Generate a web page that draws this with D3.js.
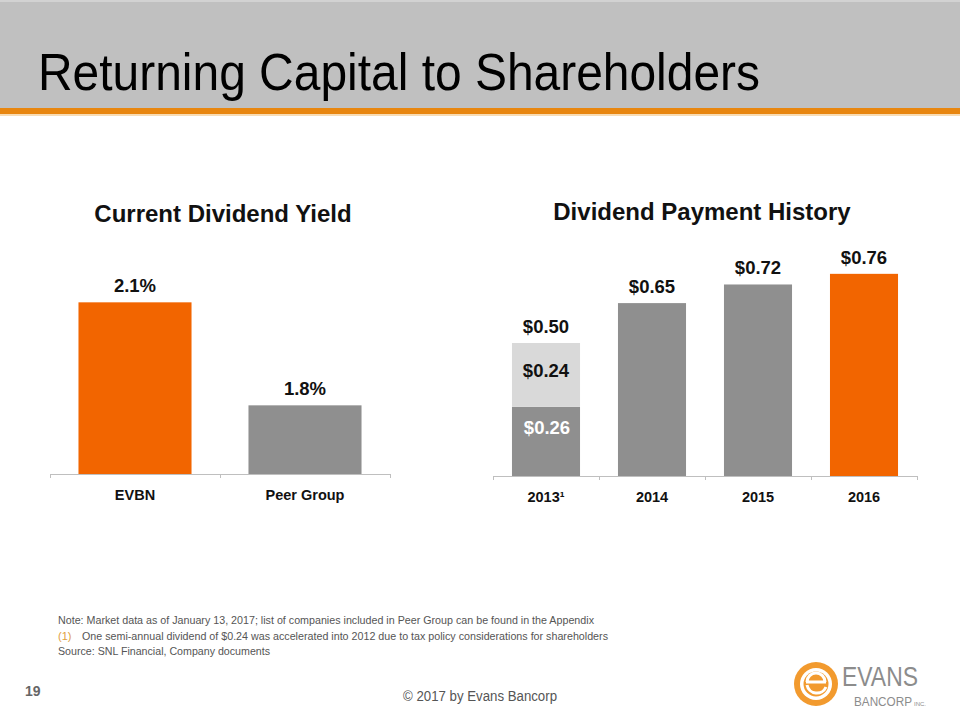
<!DOCTYPE html>
<html>
<head>
<meta charset="utf-8">
<script src="https://cdn.jsdelivr.net/npm/d3@7"></script>
<style>
  html, body { margin: 0; padding: 0; background: #ffffff; }
  svg { display: block; }
  text { font-family: "Liberation Sans", Arial, Helvetica, sans-serif; }
</style>
</head>
<body>
<svg id="chart" width="960" height="720"></svg>
<script>
// ---------- DATA ----------
const pageTitle = "Returning Capital to Shareholders";

const yieldTitle = "Current Dividend Yield";
const yieldCategories = ["EVBN", "Peer Group"];
const yieldValues = [2.1, 1.8];
const yieldLabels = ["2.1%", "1.8%"];
const yieldDomain = [1.6, 2.2];

const divTitle = "Dividend Payment History";
const divYears = ["2013\u00B9", "2014", "2015", "2016"];
const divRegular = [0.26, 0.65, 0.72, 0.76];
const divAccelerated = [0.24, 0, 0, 0];
const divTotals = [0.50, 0.65, 0.72, 0.76];
const divDomain = [0, 0.8];

const notes = [
  "Note: Market data as of January 13, 2017; list of companies included in Peer Group can be found in the Appendix",
  "One semi-annual dividend of $0.24 was accelerated into 2012 due to tax policy considerations for shareholders",
  "Source: SNL Financial, Company documents"
];
const pageNumber = "19";
const copyright = "\u00A9 2017 by Evans Bancorp";

// ---------- STYLE ----------
const ORANGE = "#f26500";
const GRAY = "#8f8f8f";
const LIGHT = "#d9d9d9";
const AXIS = "#bfbfbf";

const svg = d3.select("#chart");

// Header band
svg.append("rect").attr("x", 0).attr("y", 0).attr("width", 960).attr("height", 108).attr("fill", "#c0c0c0");
svg.append("rect").attr("x", 0).attr("y", 0).attr("width", 960).attr("height", 2).attr("fill", "#d2d2d2");
svg.append("rect").attr("x", 0).attr("y", 108).attr("width", 960).attr("height", 6).attr("fill", "#e8860f");
svg.append("rect").attr("x", 0).attr("y", 114).attr("width", 960).attr("height", 2).attr("fill", "#f8dcb4");
svg.append("text").attr("x", 38).attr("y", 90).attr("font-size", 52).attr("fill", "#000")
  .attr("textLength", 722).attr("lengthAdjust", "spacingAndGlyphs").text(pageTitle);

// ---------- LEFT CHART ----------
const L = { x0: 50, x1: 390, base: 474, top: 268 };
const lx = d3.scaleBand().domain(yieldCategories).range([L.x0, L.x1]).paddingInner(0.335).paddingOuter(0.1675);
const ly = d3.scaleLinear().domain(yieldDomain).range([L.base, L.top]);

const left = svg.append("g");
left.append("text").attr("x", 223).attr("y", 222).attr("text-anchor", "middle")
  .attr("font-size", 24).attr("font-weight", "bold").attr("fill", "#111").text(yieldTitle);

left.selectAll("rect.bar").data(yieldCategories).join("rect").attr("class", "bar")
  .attr("x", d => lx(d)).attr("width", lx.bandwidth())
  .attr("y", (d, i) => ly(yieldValues[i]))
  .attr("height", (d, i) => L.base - ly(yieldValues[i]))
  .attr("fill", (d, i) => i === 0 ? ORANGE : GRAY);

left.selectAll("text.val").data(yieldCategories).join("text").attr("class", "val")
  .attr("x", d => lx(d) + lx.bandwidth() / 2)
  .attr("y", (d, i) => ly(yieldValues[i]) - 10.5)
  .attr("text-anchor", "middle").attr("font-size", 18.5).attr("font-weight", "bold").attr("fill", "#111")
  .text((d, i) => yieldLabels[i]);

const lAxis = left.append("g").attr("transform", `translate(0,${L.base})`)
  .call(d3.axisBottom(lx).tickSize(0).tickPadding(16).tickSizeOuter(0));
lAxis.select(".domain").attr("stroke", AXIS);
lAxis.selectAll(".tick text").attr("font-size", 14.5).attr("font-weight", "bold").attr("fill", "#111")
  .style("font-family", '"Liberation Sans", Arial, sans-serif');
const lBounds = [L.x0].concat(yieldCategories.map(d => lx(d) + lx.step() - lx.step() * lx.paddingInner() / 2));
lBounds[lBounds.length - 1] = L.x1;
left.selectAll("line.tk").data(lBounds).join("line").attr("class", "tk")
  .attr("x1", d => d + 0.5).attr("x2", d => d + 0.5).attr("y1", L.base).attr("y2", L.base + 4)
  .attr("stroke", AXIS);

// ---------- RIGHT CHART ----------
const R = { x0: 493, x1: 917, base: 476, top: 263.2 };
const rx = d3.scaleBand().domain(divYears).range([R.x0, R.x1]).paddingInner(0.358).paddingOuter(0.179);
const ry = d3.scaleLinear().domain(divDomain).range([R.base, R.top]);

const right = svg.append("g");
right.append("text").attr("x", 702).attr("y", 220).attr("text-anchor", "middle")
  .attr("font-size", 24).attr("font-weight", "bold").attr("fill", "#111").text(divTitle);

// regular segment
right.selectAll("rect.reg").data(divYears).join("rect").attr("class", "reg")
  .attr("x", d => rx(d)).attr("width", rx.bandwidth())
  .attr("y", (d, i) => ry(divRegular[i]))
  .attr("height", (d, i) => R.base - ry(divRegular[i]))
  .attr("fill", (d, i) => i === divYears.length - 1 ? ORANGE : GRAY);
// accelerated segment
right.selectAll("rect.acc").data(divYears.filter((d, i) => divAccelerated[i] > 0)).join("rect").attr("class", "acc")
  .attr("x", d => rx(d)).attr("width", rx.bandwidth())
  .attr("y", d => { const i = divYears.indexOf(d); return ry(divRegular[i] + divAccelerated[i]); })
  .attr("height", d => { const i = divYears.indexOf(d); return ry(divRegular[i]) - ry(divRegular[i] + divAccelerated[i]); })
  .attr("fill", LIGHT);

right.selectAll("text.tot").data(divYears).join("text").attr("class", "tot")
  .attr("x", d => rx(d) + rx.bandwidth() / 2)
  .attr("y", (d, i) => ry(divTotals[i]) - 10)
  .attr("text-anchor", "middle").attr("font-size", 18.5).attr("font-weight", "bold").attr("fill", "#111")
  .text((d, i) => "$" + divTotals[i].toFixed(2));

// segment labels for stacked bar
divYears.forEach((d, i) => {
  if (divAccelerated[i] > 0) {
    const cx = rx(d) + rx.bandwidth() / 2;
    const accMid = (ry(divRegular[i]) + ry(divRegular[i] + divAccelerated[i])) / 2;
    const regMid = (ry(0) + ry(divRegular[i])) / 2;
    right.append("text").attr("x", cx).attr("y", accMid + 2).attr("text-anchor", "middle")
      .attr("font-size", 18.5).attr("font-weight", "bold").attr("fill", "#111")
      .text("$" + divAccelerated[i].toFixed(2));
    right.append("text").attr("x", cx + 1).attr("y", regMid - 7).attr("text-anchor", "middle")
      .attr("font-size", 18.5).attr("font-weight", "bold").attr("fill", "#ffffff")
      .text("$" + divRegular[i].toFixed(2));
  }
});

const rAxis = right.append("g").attr("transform", `translate(0,${R.base})`)
  .call(d3.axisBottom(rx).tickSize(0).tickPadding(16).tickSizeOuter(0));
rAxis.select(".domain").attr("stroke", AXIS);
rAxis.selectAll(".tick text").attr("font-size", 14.5).attr("font-weight", "bold").attr("fill", "#111")
  .style("font-family", '"Liberation Sans", Arial, sans-serif');
const rBounds = [R.x0].concat(divYears.map(d => rx(d) + rx.bandwidth() + rx.step() * rx.paddingInner() / 2));
rBounds[rBounds.length - 1] = R.x1;
right.selectAll("line.tk").data(rBounds).join("line").attr("class", "tk")
  .attr("x1", d => d + 0.5).attr("x2", d => d + 0.5).attr("y1", R.base).attr("y2", R.base + 4)
  .attr("stroke", AXIS);

// ---------- NOTES ----------
const noteG = svg.append("g").attr("font-size", 11).attr("fill", "#555");
noteG.append("text").attr("x", 58).attr("y", 624).attr("textLength", 536).attr("lengthAdjust", "spacingAndGlyphs").text(notes[0]);
noteG.append("text").attr("x", 58).attr("y", 640).attr("fill", "#e0a040").text("(1)");
noteG.append("text").attr("x", 82).attr("y", 640).attr("textLength", 526).attr("lengthAdjust", "spacingAndGlyphs").text(notes[1]);
noteG.append("text").attr("x", 58).attr("y", 655).attr("textLength", 212).attr("lengthAdjust", "spacingAndGlyphs").text(notes[2]);

// ---------- FOOTER ----------
svg.append("text").attr("x", 25).attr("y", 696).attr("font-size", 14).attr("font-weight", "bold")
  .attr("fill", "#666").text(pageNumber);
svg.append("text").attr("x", 403).attr("y", 701).attr("font-size", 14).attr("fill", "#555")
  .attr("textLength", 154).attr("lengthAdjust", "spacingAndGlyphs").text(copyright);

// logo
const logo = svg.append("g");
logo.append("circle").attr("cx", 816).attr("cy", 684).attr("r", 22).attr("fill", "#f29a2e");
logo.append("circle").attr("cx", 816).attr("cy", 684).attr("r", 16).attr("fill", "#ffffff");
logo.append("circle").attr("cx", 816).attr("cy", 684).attr("r", 12.5).attr("fill", "#f29a2e");
logo.append("path")
  .attr("d", "M806,682 L826,682 M807,682 A9,9 0 0 1 825,682 M826,687 A10,10 0 0 1 807,685")
  .attr("fill", "none").attr("stroke", "#ffffff").attr("stroke-width", 3);
logo.append("text").attr("x", 842).attr("y", 686).attr("font-size", 27).attr("fill", "#8c8c8c")
  .attr("textLength", 76).attr("lengthAdjust", "spacingAndGlyphs").text("EVANS");
logo.append("text").attr("x", 854).attr("y", 706).attr("font-size", 12).attr("fill", "#8c8c8c")
  .attr("textLength", 58).attr("lengthAdjust", "spacingAndGlyphs").text("BANCORP");
logo.append("text").attr("x", 914).attr("y", 706).attr("font-size", 6).attr("fill", "#8c8c8c").text("INC.");
</script>
</body>
</html>
